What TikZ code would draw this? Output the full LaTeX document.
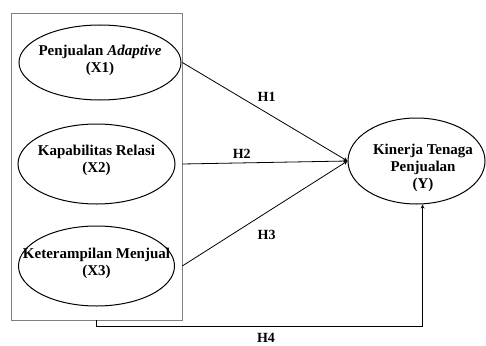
\documentclass[tikz,border=0pt]{standalone}
\usepackage{fontspec}
\setmainfont{Liberation Serif}
\usetikzlibrary{positioning,shapes.geometric}

\begin{document}
\begin{tikzpicture}[x=1pt,y=-1pt,
    v/.style={ellipse,draw,line width=1pt,inner sep=0pt},
    t/.style={align=center,inner sep=0pt,font=\fontsize{15}{17}\selectfont\bfseries},
    h/.style={font=\fontsize{14}{16}\selectfont\bfseries},
    >=stealth,line width=0.8pt]
    \useasboundingbox (0,0) rectangle (486,345);
    \node[draw=gray,line width=0.6pt,minimum width=171pt,minimum height=307pt] (box) at (96.5,166.5) {};
    % variables X
    \node[v,minimum width=162pt,minimum height=75pt] (x1) at (100,62.5) {};
    \node[v,minimum width=157pt,minimum height=80pt] (x2) [below=23pt of x1,xshift=-3.5pt] {};
    \node[v,minimum width=156pt,minimum height=80pt] (x3) [below=21pt of x2] {};
    \node[t] (t1) at ([yshift=2pt]x1) {Penjualan \textit{Adaptive}\\(X1)};
    \node[t] (t2) at ([yshift=4pt]x2) {Kapabilitas Relasi\\(X2)};
    \node[t] (t3) at ([yshift=3pt]x3) {Keterampilan Menjual\\(X3)};
    % variable Y
    \node[v,minimum width=137pt,minimum height=86pt] (y) at (416.5,161) {};
    \node[t] (ty) at (423,168) {Kinerja Tenaga\\Penjualan\\(Y)};
    \draw[->] (box.east |- x1) -- node[h,above=8pt,pos=0.51] {H1} (y.west);
    \draw[->] (box.east |- x2) -- node[h,above=1pt,pos=0.36] {H2} (y.west);
    \draw[->] (box.east |- x3) -- node[h,below=14pt,pos=0.51] {H3} (y.west);
    \draw[->] (box.south) -- ++(0,6) -| node[h,below=3pt,pos=0.26] {H4} ([xshift=6pt]y.south);
\end{tikzpicture}
\end{document}
